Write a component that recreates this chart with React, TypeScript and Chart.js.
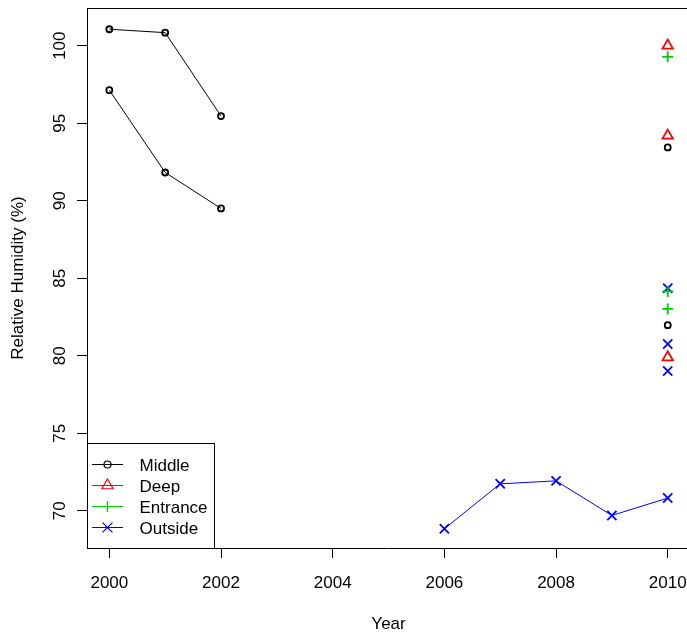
import React, { useEffect, useRef } from 'react';
import { Chart, registerables } from 'chart.js';

Chart.register(...registerables);

// ---- Data ----
const xTicks = [2000, 2002, 2004, 2006, 2008, 2010];
const yTicks = [70, 75, 80, 85, 90, 95, 100];

const middleYears = [2000, 2001, 2002];
const middleA = [101.06, 100.84, 95.46];
const middleB = [97.13, 91.82, 89.5];
const middle2010 = [93.44, 81.97];
const deep2010 = [100.0, 94.2, 79.9];
const entrance2010 = [99.28, 84.15, 83.02];
const outsideYears = [2006, 2007, 2008, 2009, 2010];
const outsideValues = [68.84, 71.74, 71.93, 69.7, 70.82];
const outside2010 = [84.36, 80.76, 79.02];

const legendLabels = ['Middle', 'Deep', 'Entrance', 'Outside'];

const xTitle = 'Year';
const yTitle = 'Relative Humidity (%)';

// axis ranges (R-style 4% extension; right side cut at the canvas edge)
const X_MIN = 1999.6;
const X_MAX = 2010.345;
const X_FULL_MAX = 2010.4;
const Y_MIN = 67.6;
const Y_MAX = 102.43;

// ---- Styles ----
const BLACK = '#000000';
const RED = '#FF0000';
const GREEN = '#00CD00';
const BLUE = '#0000FF';
const FONT = '17px "Liberation Sans", Arial, Helvetica, sans-serif';

type Marker = 'circle' | 'triangle' | 'cross' | 'crossRot';
const legendStyles: { color: string; marker: Marker; radius: number }[] = [
  { color: BLACK, marker: 'circle', radius: 3.5 },
  { color: RED, marker: 'triangle', radius: 6.5 },
  { color: GREEN, marker: 'cross', radius: 5.5 },
  { color: BLUE, marker: 'crossRot', radius: 7 },
];

const pts = (xs: number[], ys: number[]) => ys.map((y, i) => ({ x: xs[i], y }));
const at2010 = (ys: number[]) => ys.map((y) => ({ x: 2010, y }));

function drawMarker(ctx: CanvasRenderingContext2D, m: Marker, x: number, y: number, r: number) {
  ctx.beginPath();
  if (m === 'circle') {
    ctx.arc(x, y, r, 0, Math.PI * 2);
  } else if (m === 'triangle') {
    let rad = 0;
    ctx.moveTo(x + Math.sin(rad) * r, y - Math.cos(rad) * r);
    rad += (2 * Math.PI) / 3;
    ctx.lineTo(x + Math.sin(rad) * r, y - Math.cos(rad) * r);
    rad += (2 * Math.PI) / 3;
    ctx.lineTo(x + Math.sin(rad) * r, y - Math.cos(rad) * r);
    ctx.closePath();
  } else if (m === 'cross') {
    ctx.moveTo(x - r, y);
    ctx.lineTo(x + r, y);
    ctx.moveTo(x, y - r);
    ctx.lineTo(x, y + r);
  } else {
    const d = r * Math.SQRT1_2;
    ctx.moveTo(x - d, y - d);
    ctx.lineTo(x + d, y + d);
    ctx.moveTo(x - d, y + d);
    ctx.lineTo(x + d, y - d);
  }
  ctx.stroke();
}

const decorPlugin = {
  id: 'rDecor',
  afterDraw(chart: any) {
    const { ctx, chartArea: ca, scales } = chart;
    const xs = scales.x;
    const ys = scales.y;
    ctx.save();
    // top border of the plot box
    ctx.strokeStyle = BLACK;
    ctx.lineWidth = 1;
    ctx.beginPath();
    const ty = Math.round(ca.top) + 0.5;
    ctx.moveTo(ca.left, ty);
    ctx.lineTo(ca.right, ty);
    ctx.stroke();

    ctx.fillStyle = BLACK;
    ctx.font = FONT;
    ctx.textAlign = 'center';
    ctx.textBaseline = 'middle';
    // x tick labels
    xTicks.forEach((v) => ctx.fillText(String(v), xs.getPixelForValue(v), 583));
    // y tick labels (rotated, as in R)
    yTicks.forEach((v) => {
      ctx.save();
      ctx.translate(60, ys.getPixelForValue(v));
      ctx.rotate(-Math.PI / 2);
      ctx.fillText(String(v), 0, 0);
      ctx.restore();
    });
    // axis titles
    ctx.fillText(xTitle, (xs.getPixelForValue(X_MIN) + xs.getPixelForValue(X_FULL_MAX)) / 2, 624);
    ctx.save();
    ctx.translate(18, (ca.top + ca.bottom) / 2);
    ctx.rotate(-Math.PI / 2);
    ctx.fillText(yTitle, 0, 0);
    ctx.restore();

    // legend
    const lx = Math.round(ca.left);
    const lTop = 443.5;
    const lRight = 214.5;
    const lBottom = Math.round(ca.bottom) + 0.5;
    ctx.fillStyle = '#FFFFFF';
    ctx.fillRect(lx + 1, lTop, lRight - lx - 1, lBottom - lTop);
    ctx.strokeStyle = BLACK;
    ctx.lineWidth = 1;
    ctx.strokeRect(lx + 0.5, lTop, lRight - lx - 0.5, lBottom - lTop);
    legendLabels.forEach((label, i) => {
      const st = legendStyles[i];
      const yLine = 464.5 + i * 21;
      ctx.strokeStyle = st.color;
      ctx.lineWidth = 1;
      ctx.beginPath();
      ctx.moveTo(92, yLine);
      ctx.lineTo(123, yLine);
      ctx.stroke();
      ctx.lineWidth = 1.2;
      drawMarker(ctx, st.marker, 107.5, yLine, st.radius);
      ctx.fillStyle = BLACK;
      ctx.textAlign = 'left';
      ctx.fillText(label, 139.5, 466 + i * 21);
    });
    ctx.restore();
  },
};

export default function App() {
  const canvasRef = useRef<HTMLCanvasElement | null>(null);

  useEffect(() => {
    const canvas = canvasRef.current;
    if (!canvas) return;

    const pointCommon = { pointBorderWidth: 1.8, pointBackgroundColor: 'rgba(0,0,0,0)', pointHoverRadius: 0 };

    const chart = new Chart(canvas, {
      type: 'scatter',
      data: {
        datasets: [
          { label: 'Middle A', data: pts(middleYears, middleA), showLine: true, borderColor: BLACK, borderWidth: 1, pointStyle: 'circle', pointRadius: 3, pointBorderColor: BLACK, ...pointCommon },
          { label: 'Middle B', data: pts(middleYears, middleB), showLine: true, borderColor: BLACK, borderWidth: 1, pointStyle: 'circle', pointRadius: 3, pointBorderColor: BLACK, ...pointCommon },
          { label: 'Middle 2010', data: at2010(middle2010), showLine: false, borderColor: BLACK, pointStyle: 'circle', pointRadius: 3, pointBorderColor: BLACK, ...pointCommon },
          { label: 'Deep 2010', data: at2010(deep2010), showLine: false, borderColor: RED, pointStyle: 'triangle', pointRadius: 6, pointBorderColor: RED, ...pointCommon },
          { label: 'Entrance 2010', data: at2010(entrance2010), showLine: false, borderColor: GREEN, pointStyle: 'cross', pointRadius: 5.5, pointBorderColor: GREEN, ...pointCommon },
          { label: 'Outside', data: pts(outsideYears, outsideValues), showLine: true, borderColor: BLUE, borderWidth: 1, pointStyle: 'crossRot', pointRadius: 6.5, pointBorderColor: BLUE, ...pointCommon },
          { label: 'Outside 2010', data: at2010(outside2010), showLine: false, borderColor: BLUE, pointStyle: 'crossRot', pointRadius: 6.5, pointBorderColor: BLUE, ...pointCommon },
        ],
      },
      options: {
        animation: false,
        responsive: false,
        maintainAspectRatio: false,
        devicePixelRatio: 1,
        layout: { autoPadding: false, padding: { left: 0, top: 8, right: 0, bottom: 0 } },
        plugins: {
          legend: { display: false },
          tooltip: { enabled: false },
          title: { display: false },
        },
        elements: { line: { tension: 0 } },
        scales: {
          x: {
            type: 'linear',
            position: 'bottom',
            min: X_MIN,
            max: X_MAX,
            afterBuildTicks: (scale: any) => {
              scale.ticks = xTicks.map((v) => ({ value: v }));
            },
            afterFit: (scale: any) => {
              scale.height = 86;
            },
            ticks: { display: false },
            grid: { display: true, drawOnChartArea: false, drawTicks: true, tickLength: 10, color: BLACK, lineWidth: 1 },
            border: { display: true, color: BLACK, width: 1 },
            title: { display: false },
          },
          y: {
            type: 'linear',
            position: 'left',
            min: Y_MIN,
            max: Y_MAX,
            afterBuildTicks: (scale: any) => {
              scale.ticks = yTicks.map((v) => ({ value: v }));
            },
            afterFit: (scale: any) => {
              scale.width = 87;
            },
            ticks: { display: false },
            grid: { display: true, drawOnChartArea: false, drawTicks: true, tickLength: 10, color: BLACK, lineWidth: 1 },
            border: { display: true, color: BLACK, width: 1 },
            title: { display: false },
          },
        },
      },
      plugins: [decorPlugin],
    } as any);

    return () => chart.destroy();
  }, []);

  return (
    <div style={{ position: 'absolute', left: 0, top: 0, width: 687, height: 634, background: '#fff' }}>
      <canvas ref={canvasRef} width={687} height={634} style={{ display: 'block', width: 687, height: 634 }} />
    </div>
  );
}
